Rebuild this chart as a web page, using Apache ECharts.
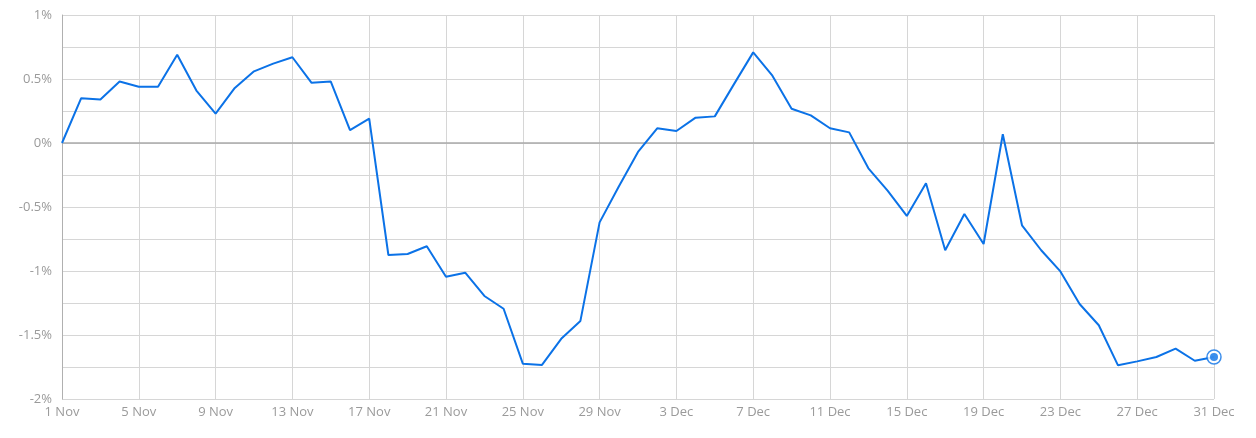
<!DOCTYPE html>
<html>
<head>
<meta charset="utf-8">
<script src="https://cdn.jsdelivr.net/npm/echarts@6/dist/echarts.min.js"></script>
<style>
  html, body { margin: 0; padding: 0; background: #fff; }
  #chart { width: 1256px; height: 438px; }
</style>
</head>
<body>
<div id="chart"></div>
<script>
const categories = [
  '1 Nov','2 Nov','3 Nov','4 Nov','5 Nov','6 Nov','7 Nov','8 Nov','9 Nov','10 Nov',
  '11 Nov','12 Nov','13 Nov','14 Nov','15 Nov','16 Nov','17 Nov','18 Nov','19 Nov','20 Nov',
  '21 Nov','22 Nov','23 Nov','24 Nov','25 Nov','26 Nov','27 Nov','28 Nov','29 Nov','30 Nov',
  '1 Dec','2 Dec','3 Dec','4 Dec','5 Dec','6 Dec','7 Dec','8 Dec','9 Dec','10 Dec',
  '11 Dec','12 Dec','13 Dec','14 Dec','15 Dec','16 Dec','17 Dec','18 Dec','19 Dec','20 Dec',
  '21 Dec','22 Dec','23 Dec','24 Dec','25 Dec','26 Dec','27 Dec','28 Dec','29 Dec','30 Dec','31 Dec'
];
const values = [
  0, 0.35, 0.34, 0.48, 0.44, 0.44, 0.69, 0.41, 0.23, 0.43,
  0.56, 0.62, 0.67, 0.47, 0.48, 0.10, 0.19, -0.875, -0.867, -0.807,
  -1.045, -1.013, -1.195, -1.295, -1.724, -1.734, -1.53, -1.39, -0.62, -0.34,
  -0.07, 0.115, 0.094, 0.198, 0.208, 0.46, 0.708, 0.526, 0.268, 0.216,
  0.115, 0.083, -0.198, -0.372, -0.57, -0.315, -0.838, -0.555, -0.789, 0.068,
  -0.643, -0.838, -1.003, -1.258, -1.424, -1.737, -1.706, -1.672, -1.607, -1.701, -1.672
];
const yMin = -2, yMax = 1, yStep = 0.25, yLabelStep = 0.5;

const BLUE = '#0b72e7';
const lastIdx = values.length - 1;

const chart = echarts.init(document.getElementById('chart'), null, { renderer: 'canvas' });
chart.setOption({
  animation: false,
  grid: { left: 62, right: 42, top: 15, bottom: 39, containLabel: false },
  xAxis: {
    type: 'category',
    data: categories,
    boundaryGap: false,
    axisLine: { show: true, lineStyle: { color: '#d6d6d6', width: 1 } },
    axisTick: { show: false },
    axisLabel: {
      interval: 3,
      color: '#9a9a9a',
      fontFamily: 'Open Sans',
      fontSize: 13,
      margin: 7
    },
    splitLine: { show: true, interval: 3, lineStyle: { color: '#d6d6d6', width: 1 } }
  },
  yAxis: {
    type: 'value',
    min: yMin, max: yMax, interval: yStep,
    axisLine: { show: true, lineStyle: { color: '#b0b0b0', width: 1 } },
    axisTick: { show: false },
    axisLabel: {
      color: '#9a9a9a',
      fontFamily: 'Open Sans',
      fontSize: 13,
      margin: 10,
      formatter: function (v) {
        const k = v / yLabelStep;
        if (Math.abs(k - Math.round(k)) > 1e-9) return '';
        const r = Math.round(v * 100) / 100;
        return (r === 0 ? 0 : r) + '%';
      }
    },
    splitLine: { show: true, lineStyle: { color: '#d6d6d6', width: 1 } }
  },
  series: [
    {
      type: 'line',
      data: values,
      showSymbol: false,
      symbol: 'none',
      lineStyle: { color: BLUE, width: 2 },
      itemStyle: { color: BLUE },
      z: 3,
      markLine: {
        silent: true,
        symbol: 'none',
        label: { show: false },
        lineStyle: { color: '#aaaaaa', width: 1.5, type: 'solid' },
        data: [{ yAxis: 0 }],
        z: 2
      }
    },
    {
      type: 'scatter',
      data: [[categories[lastIdx], values[lastIdx]]],
      symbol: 'circle',
      symbolSize: 14,
      itemStyle: { color: '#ffffff', borderColor: BLUE, borderWidth: 1.5 },
      z: 4,
      silent: true
    },
    {
      type: 'scatter',
      data: [[categories[lastIdx], values[lastIdx]]],
      symbol: 'circle',
      symbolSize: 8,
      itemStyle: { color: BLUE },
      z: 5,
      silent: true
    }
  ]
});
</script>
</body>
</html>
